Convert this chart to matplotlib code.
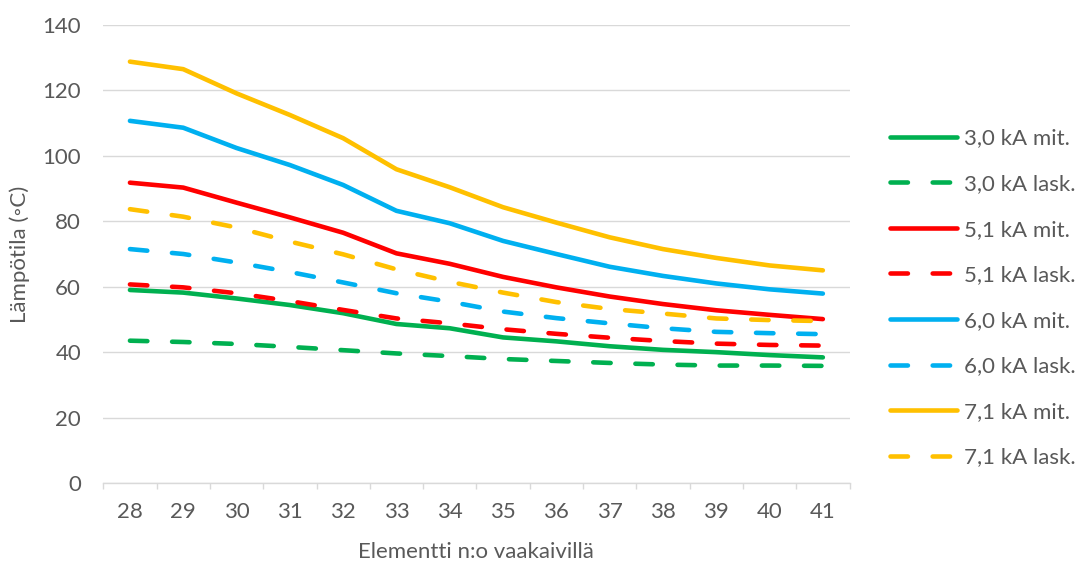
import matplotlib
matplotlib.use("Agg")
import matplotlib.pyplot as plt
import numpy as np

plt.rcParams['font.family'] = ['Lato', 'DejaVu Sans']

elements = [28, 29, 30, 31, 32, 33, 34, 35, 36, 37, 38, 39, 40, 41]

ka30_mit = [59.0, 58.2, 56.4, 54.4, 51.9, 48.6, 47.3, 44.5, 43.3, 41.8, 40.7, 40.0, 39.1, 38.4]
ka30_lask = [43.5, 43.1, 42.5, 41.6, 40.6, 39.6, 38.8, 37.9, 37.3, 36.7, 36.2, 35.9, 35.9, 35.8]
ka51_mit = [91.8, 90.3, 85.7, 81.2, 76.5, 70.2, 67.0, 63.0, 59.8, 57.0, 54.7, 52.8, 51.4, 50.1]
ka51_lask = [60.7, 59.8, 58.0, 55.6, 52.9, 50.3, 48.8, 47.0, 45.6, 44.4, 43.4, 42.6, 42.2, 42.0]
ka60_mit = [110.7, 108.6, 102.4, 97.2, 91.1, 83.2, 79.4, 74.0, 70.0, 66.1, 63.3, 61.0, 59.2, 57.9]
ka60_lask = [71.5, 70.0, 67.4, 64.5, 61.3, 58.0, 55.4, 52.4, 50.4, 48.8, 47.3, 46.2, 45.8, 45.5]
ka71_mit = [128.8, 126.5, 119.1, 112.5, 105.4, 95.9, 90.4, 84.3, 79.6, 75.1, 71.5, 68.8, 66.5, 65.0]
ka71_lask = [83.7, 81.4, 78.1, 73.8, 69.9, 65.3, 61.5, 58.2, 55.3, 53.2, 51.8, 50.3, 49.8, 49.5]

series = [
    ("3,0 kA mit.", ka30_mit, "#00B050", False),
    ("3,0 kA lask.", ka30_lask, "#00B050", True),
    ("5,1 kA mit.", ka51_mit, "#FF0000", False),
    ("5,1 kA lask.", ka51_lask, "#FF0000", True),
    ("6,0 kA mit.", ka60_mit, "#00B0F0", False),
    ("6,0 kA lask.", ka60_lask, "#00B0F0", True),
    ("7,1 kA mit.", ka71_mit, "#FFC000", False),
    ("7,1 kA lask.", ka71_lask, "#FFC000", True),
]

W, H, DPI = 1080, 563, 100
fig = plt.figure(figsize=(W / DPI, H / DPI), dpi=DPI)
left, right, top, bottom = 103.3, 849.5, 25.0, 483.0
ax = fig.add_axes([left / W, 1 - bottom / H, (right - left) / W, (bottom - top) / H])

x = np.arange(len(elements))
lw = 3.3
handles = []
for label, vals, color, dashed in series:
    if dashed:
        ln, = ax.plot(x, vals, color=color, lw=lw, label=label,
                      dashes=(3.8, 5.4), dash_capstyle='round', solid_capstyle='round')
    else:
        ln, = ax.plot(x, vals, color=color, lw=lw, label=label,
                      solid_capstyle='round', solid_joinstyle='round')
    handles.append(ln)

ax.set_xlim(-0.5, len(elements) - 0.5)
ax.set_ylim(0, 140)
ax.set_yticks(np.arange(0, 141, 20))
ax.set_xticks(x)
ax.set_xticklabels([str(e) for e in elements])
ax.set_xticks(np.arange(-0.5, len(elements), 1), minor=True)

text_color = "#595959"
fs = 16
ax.tick_params(axis='y', length=0, pad=16, labelsize=fs, labelcolor=text_color)
ax.tick_params(axis='x', which='major', length=0, pad=14, labelsize=fs, labelcolor=text_color)
ax.tick_params(axis='x', which='minor', length=4.5, width=1.0, color="#D9D9D9")

ax.grid(axis='y', color="#D9D9D9", lw=1.0)
ax.set_axisbelow(True)
for s in ['top', 'right', 'left']:
    ax.spines[s].set_visible(False)
ax.spines['bottom'].set_color("#D9D9D9")
ax.spines['bottom'].set_linewidth(1.0)

ax.set_xlabel("Elementti n:o vaakaivillä", fontsize=fs, color=text_color, labelpad=14)
ax.set_ylabel("Lämpötila (◦C)", fontsize=fs, color=text_color, labelpad=9)

leg = fig.legend(handles=handles, loc='center left', bbox_to_anchor=(890 / W, 1 - 298 / H),
                 frameon=False, fontsize=fs, handlelength=3.0, handletextpad=0.35,
                 labelspacing=1.15, borderpad=0, borderaxespad=0)
for t in leg.get_texts():
    t.set_color(text_color)

fig.savefig("out.png", dpi=DPI)
